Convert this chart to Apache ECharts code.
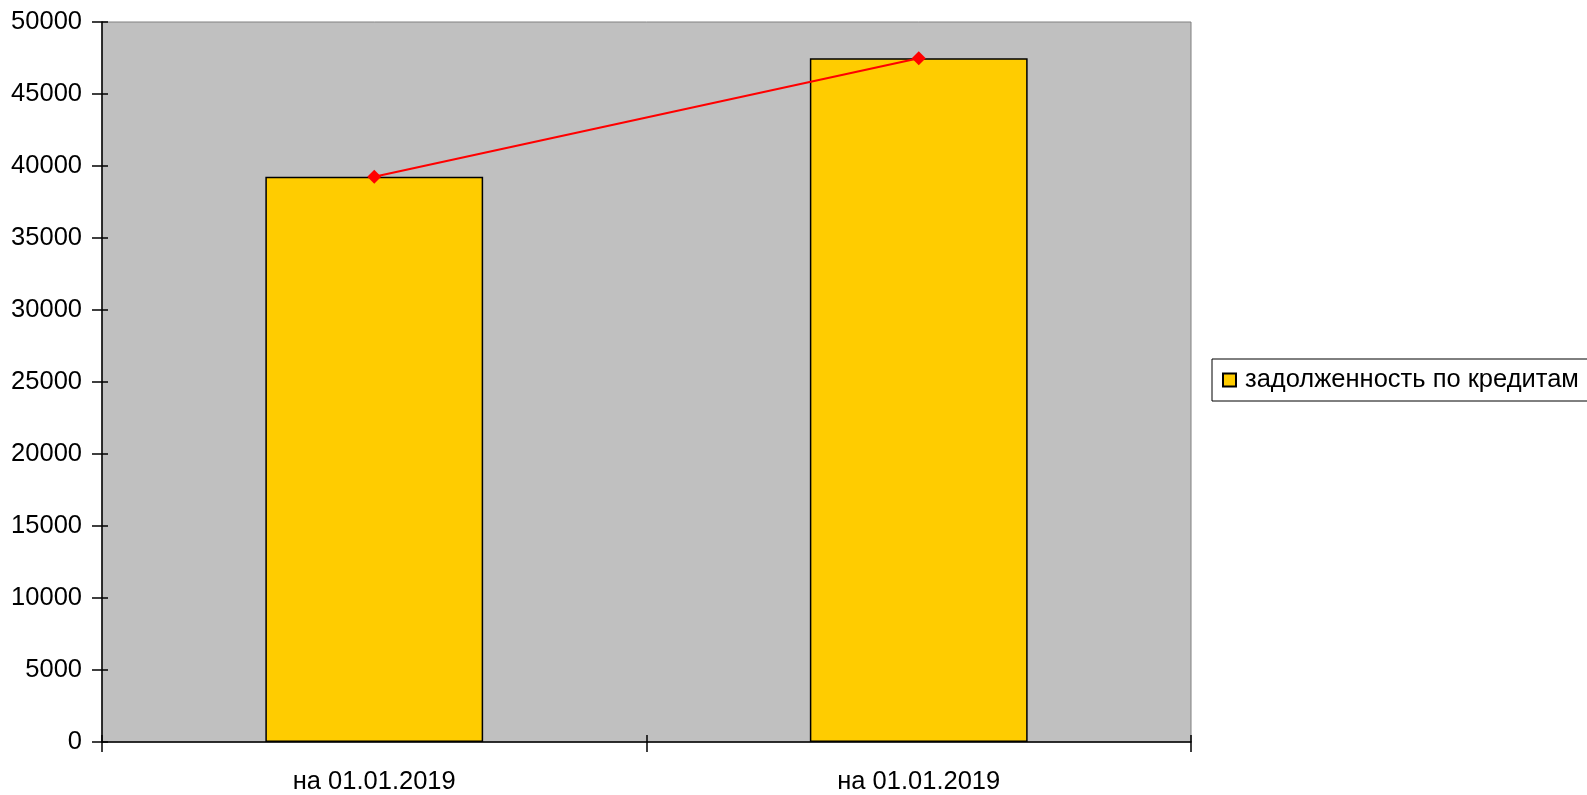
<!DOCTYPE html>
<html><head><meta charset="utf-8">
<script src="https://cdn.jsdelivr.net/npm/echarts@6/dist/echarts.min.js"></script>
<style>html,body{margin:0;padding:0;background:#fff}#c{width:1587px;height:795px}</style>
</head><body><div id="c"></div>
<script>
const categories = ['на 01.01.2019', 'на 01.01.2019'];
const barValues = [39260, 47480];
const lineValues = [39260, 47480];
const seriesName = 'задолженность по кредитам';
const yMin = 0, yMax = 50000, yStep = 5000;

const font = '"Liberation Sans", Arial, sans-serif';
const fs = 25.5;
const chart = echarts.init(document.getElementById('c'));
const grid = {left: 102, top: 22, width: 1089, height: 720, show: true, backgroundColor: '#C0C0C0', borderColor: '#808080', borderWidth: 1};
chart.setOption({
  animation: false,
  grid: [grid, Object.assign({}, grid, {show: false})],
  legend: {
    data: [seriesName], left: 1212, top: 359, orient: 'vertical',
    itemWidth: 13, itemHeight: 13, itemGap: 0,
    padding: [8, 30, 8, 10], borderColor: '#000', borderWidth: 1,
    textStyle: {fontFamily: font, fontSize: fs, color: '#000', padding: [0, 0, 0, 4]},
    icon: 'rect'
  },
  xAxis: [{
    type: 'category', data: categories, gridIndex: 0,
    axisLine: {lineStyle: {color: '#000', width: 1.5}},
    axisTick: {show: true, length: 10, lineStyle: {color: '#000', width: 1.5}},
    axisLabel: {fontFamily: font, fontSize: fs, color: '#000', margin: 27}
  }, {
    type: 'category', data: categories, gridIndex: 1, position: 'bottom',
    axisLine: {show: true, lineStyle: {opacity: 0}}, axisTick: {show: true, inside: true, length: 7, lineStyle: {color: '#000', width: 1.5}},
    axisLabel: {show: false}
  }],
  yAxis: [{
    type: 'value', min: yMin, max: yMax, interval: yStep, gridIndex: 0,
    axisLine: {show: true, lineStyle: {color: '#000', width: 1.5}},
    axisTick: {show: true, length: 10, lineStyle: {color: '#000', width: 1.5}},
    splitLine: {show: false},
    axisLabel: {fontFamily: font, fontSize: fs, color: '#000', margin: 20, formatter: v => String(v)}
  }, {
    type: 'value', min: yMin, max: yMax, interval: yStep, gridIndex: 1, position: 'left',
    axisLine: {show: true, onZero: false, lineStyle: {opacity: 0}}, axisTick: {show: true, inside: true, length: 6, lineStyle: {color: '#000', width: 1.5}},
    splitLine: {show: false}, axisLabel: {show: false}
  }],
  series: [{
    name: seriesName, type: 'bar', data: barValues, xAxisIndex: 0, yAxisIndex: 0,
    barCategoryGap: '60%',
    itemStyle: {color: '#FFCC00', borderColor: '#000', borderWidth: 1.5}
  }, {
    name: 'line', type: 'line', data: lineValues, xAxisIndex: 0, yAxisIndex: 0,
    symbol: 'diamond', symbolSize: 14, z: 5,
    lineStyle: {color: '#FF0000', width: 2}, itemStyle: {color: '#FF0000'}
  }]
});
</script></body></html>
